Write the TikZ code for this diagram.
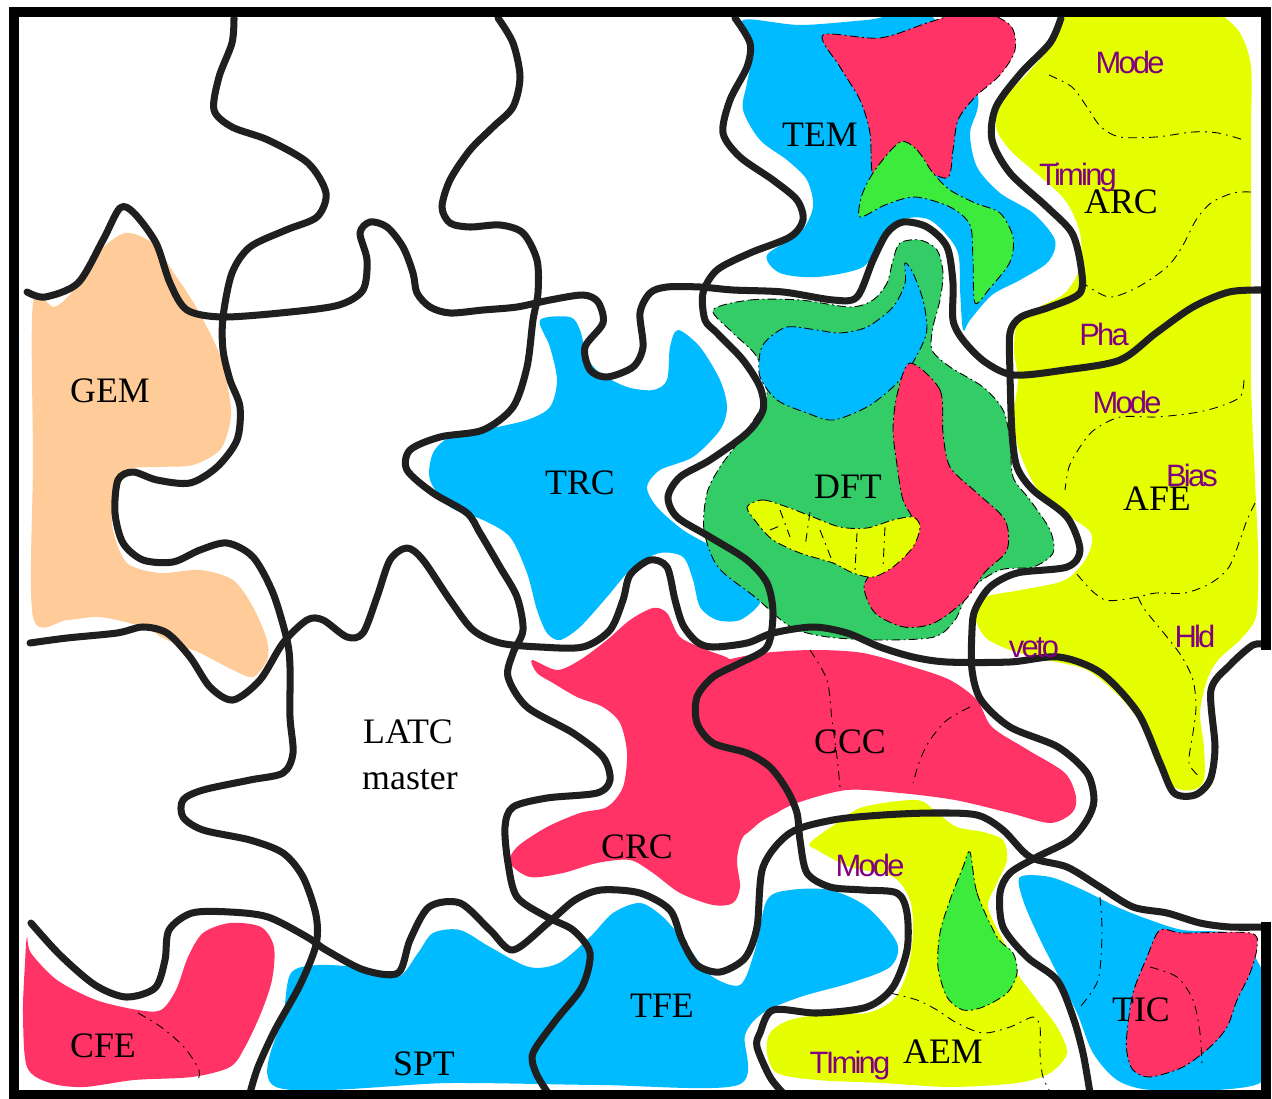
\documentclass[tikz,border=0pt]{standalone}
\usepackage{fontspec}
\setmainfont{Liberation Serif}
\newfontfamily\pufamily[LetterSpace=-9]{Liberation Sans}
\newcommand\labfont{\fontsize{20.4}{25}\selectfont}
\newcommand\pufont{\pufamily\fontsize{17.6}{20}\selectfont}
\definecolor{cy}{HTML}{00BBFF}
\definecolor{rd}{HTML}{FF3366}
\definecolor{yl}{HTML}{E5FF00}
\definecolor{gn}{HTML}{33CC66}
\definecolor{bg}{HTML}{3DEB3D}
\definecolor{orr}{HTML}{FFCC99}
\definecolor{pu}{HTML}{800080}
\tikzset{
 blob/.style={fill=#1, draw=none},
 dblob/.style={fill=#1, draw=black, line width=0.5pt, dash pattern=on 5pt off 2pt on 1pt off 2pt},
 wire/.style={draw=black!88, line width=4pt, line cap=round, line join=round},
 dline/.style={draw=black, line width=0.5pt, dash pattern=on 5pt off 3pt on 1pt off 3pt},
 lab/.style={anchor=base, font=\labfont, text=black, inner sep=0pt},
 plab/.style={anchor=base, font=\pufont, text=pu, inner sep=0pt},
 frame/.style={draw=black, line width=5.7pt, line cap=rect}
}
\begin{document}
\begin{tikzpicture}[x=0.02cm,y=-0.02cm]
\fill[white] (0,0) rectangle (1272,1099);
\useasboundingbox (0,0) rectangle (1272,1099);

% ---------- coloured regions ----------
% GEM
\path[blob=orr] plot[smooth cycle] coordinates {(33,303)(54,307)(71,293)(98,253)(125,233)(152,243)(174,273)(196,307)(219,353)(230,400)(230,423)(220,450)(193,465)(160,467)(127,470)(113,497)(113,530)(127,563)(160,573)(200,570)(233,580)(253,607)(267,640)(267,660)(253,677)(233,670)(200,653)(167,640)(143,627)(100,617)(67,620)(33,617)(33,460)};
% TRC
\path[blob=cy] plot[smooth cycle] coordinates {(540,320)(570,317)(580,330)(587,357)(600,373)(627,387)(653,390)(667,380)(670,347)(678,330)(700,347)(720,380)(727,407)(720,430)(693,457)(660,470)(647,487)(657,507)(683,530)(713,547)(740,563)(760,580)(760,603)(740,620)(717,620)(700,607)(693,580)(683,557)(660,553)(633,567)(607,597)(580,627)(560,640)(547,633)(537,610)(527,573)(510,537)(483,520)(450,507)(430,480)(433,453)(450,437)(483,430)(527,420)(550,407)(557,380)(550,347)};
% TEM
\path[blob=cy] plot[smooth cycle] coordinates {(743,20)(800,25)(867,20)(930,15)(977,93)(970,133)(977,167)(1000,193)(1033,213)(1055,240)(1048,262)(1020,280)(992,295)(970,320)(963,330)(960,290)(957,250)(930,220)(900,220)(880,240)(863,267)(817,277)(780,273)(767,255)(800,233)(813,207)(807,180)(787,160)(760,140)(743,110)(747,83)(753,47)};
\path[dblob=rd] plot[smooth cycle] coordinates {(823,35)(880,38)(930,22)(975,10)(1010,25)(1015,50)(1000,75)(975,97)(958,120)(953,150)(947,178)(915,165)(890,160)(873,175)(870,133)(860,100)(840,67)};
\path[dblob=bg] plot[smooth cycle] coordinates {(900,142)(917,150)(933,173)(950,190)(975,203)(1000,213)(1013,237)(1010,262)(990,288)(975,303)(973,260)(970,225)(950,207)(915,197)(885,205)(860,217)(862,195)(875,170)};
% DFT
\path[dblob=gn] plot[smooth cycle] coordinates {(713,310)(750,300)(800,300)(850,307)(873,300)(887,283)(893,260)(900,243)(920,240)(937,250)(943,273)(940,300)(933,327)(932,350)(950,367)(983,387)(1003,410)(1010,440)(1013,477)(1030,500)(1050,530)(1053,553)(1033,567)(1000,570)(970,590)(955,620)(934,637)(882,640)(828,637)(791,627)(755,597)(718,567)(704,530)(707,493)(720,467)(740,440)(760,410)(767,393)(757,357)(733,333)};
\path[dblob=cy] plot[smooth cycle] coordinates {(767,340)(787,327)(817,330)(840,333)(867,327)(893,307)(905,283)(905,263)(913,273)(923,300)(927,327)(923,343)(910,367)(893,387)(867,407)(833,420)(807,413)(777,400)(760,377)(760,353)};
\path[dblob=rd] plot[smooth cycle] coordinates {(910,363)(940,390)(943,433)(950,467)(977,493)(1005,520)(1007,550)(985,572)(965,600)(934,623)(904,627)(875,613)(864,587)(875,570)(904,550)(915,525)(903,500)(897,465)(893,430)(897,395)};
\path[dblob=yl] plot[smooth cycle] coordinates {(747,507)(763,500)(787,507)(813,517)(840,527)(867,528)(893,520)(913,517)(920,527)(913,547)(893,567)(873,577)(853,573)(833,563)(800,553)(773,540)(757,523)};
\draw[dline] (780,510)--(790,537) (810,512)--(805,547) (820,530)--(833,563) (857,533)--(855,570) (885,527)--(883,567) (770,530)--(782,525);
% ARC / AFE
\path[blob=yl] plot[smooth cycle] coordinates {(1069,15)(1138,12)(1193,7)(1218,13)(1240,33)(1251,67)(1251,133)(1251,233)(1251,380)(1255,480)(1258,547)(1258,593)(1255,620)(1240,640)(1218,660)(1207,680)(1200,713)(1204,747)(1204,780)(1193,790)(1174,787)(1156,763)(1145,730)(1120,697)(1087,670)(1047,660)(1010,650)(985,637)(974,613)(985,597)(1021,590)(1065,580)(1087,557)(1091,533)(1065,513)(1036,487)(1018,447)(1014,413)(1018,380)(1014,350)(1018,320)(1039,307)(1065,293)(1080,267)(1080,233)(1065,200)(1036,173)(1010,150)(996,127)(1003,100)(1028,73)(1050,47)};
\draw[dline] plot[smooth] coordinates {(1049,75)(1072,87)(1087,107)(1101,127)(1120,137)(1156,137)(1193,132)(1218,133)(1244,140)};
\draw[dline] plot[smooth] coordinates {(1251,192)(1233,193)(1211,203)(1196,220)(1182,247)(1167,267)(1138,287)(1109,297)(1083,283)};
\draw[dline] plot[smooth] coordinates {(1244,380)(1240,397)(1218,407)(1193,413)(1156,417)(1120,417)(1094,430)(1080,447)(1069,467)(1065,490)};
\draw[dline] plot[smooth] coordinates {(1255,503)(1247,520)(1240,540)(1229,567)(1211,583)(1185,593)(1156,593)(1138,597)(1120,600)(1105,600)(1091,590)(1076,573)};
\draw[dline] plot[smooth] coordinates {(1138,597)(1145,610)(1167,637)(1182,657)(1193,680)(1196,707)(1193,733)(1189,763)(1200,777)};
% CCC and CRC
\path[blob=rd] plot[smooth cycle] coordinates {(700,670)(727,660)(763,653)(813,650)(863,653)(913,667)(950,680)(977,700)(992,727)(1028,750)(1065,773)(1076,797)(1072,813)(1050,823)(1010,813)(955,800)(900,793)(847,790)(797,803)(763,820)(740,835)(720,800)(700,760)(690,720)};
\path[blob=rd] plot[smooth cycle] coordinates {(532,660)(557,670)(580,660)(607,640)(630,620)(653,608)(667,613)(680,637)(707,650)(730,660)(713,673)(700,690)(693,720)(713,743)(753,757)(773,780)(783,807)(763,820)(743,837)(737,860)(740,887)(733,903)(713,905)(680,893)(653,873)(630,860)(597,863)(563,873)(530,877)(510,863)(517,847)(547,827)(580,813)(607,807)(623,787)(627,753)(620,723)(603,707)(577,697)(553,683)(537,673)};
\draw[dline] plot[smooth] coordinates {(810,650)(827,680)(832,720)(837,757)(840,787)};
\draw[dline] plot[smooth] coordinates {(970,707)(947,720)(930,740)(920,760)(913,783)};
% AEM
\path[blob=yl] plot[smooth cycle] coordinates {(810,843)(837,823)(863,807)(917,800)(937,813)(957,827)(983,832)(1003,840)(1007,860)(997,883)(988,907)(1003,940)(1013,957)(1017,973)(1037,1000)(1057,1027)(1067,1053)(1050,1073)(1017,1083)(950,1087)(883,1083)(817,1080)(777,1073)(767,1053)(770,1033)(790,1020)(833,1013)(867,1013)(893,1000)(907,973)(913,933)(910,900)(893,877)(850,867)(817,850)};
\path[dblob=bg] plot[smooth cycle] coordinates {(970,852)(977,893)(997,937)(1013,953)(1017,973)(1007,993)(983,1007)(963,1010)(947,997)(938,967)(940,933)(950,900)(963,867)};
\draw[dline] plot[smooth] coordinates {(890,993)(917,1000)(937,1010)(957,1023)(983,1033)(1010,1027)(1033,1017)(1040,1027)(1040,1053)(1043,1077)(1053,1097)};
% TIC
\path[blob=cy] plot[smooth cycle] coordinates {(1020,877)(1050,877)(1083,890)(1117,907)(1150,920)(1183,930)(1230,933)(1250,950)(1263,973)(1266,1000)(1266,1060)(1260,1083)(1217,1090)(1150,1090)(1117,1080)(1093,1053)(1077,1013)(1057,973)(1037,933)(1023,900)};
\path[dblob=rd] plot[smooth cycle] coordinates {(1160,930)(1183,933)(1250,933)(1257,947)(1250,973)(1237,1000)(1227,1027)(1210,1047)(1183,1067)(1150,1077)(1133,1070)(1127,1053)(1127,1033)(1133,993)(1147,957)};
\draw[dline] plot[smooth] coordinates {(1100,897)(1102,933)(1098,980)(1080,1007)};
\draw[dline] plot[smooth] coordinates {(1150,967)(1177,977)(1193,1000)(1200,1033)(1202,1067)};
% SPT / TFE
\path[blob=cy] plot[smooth cycle] coordinates {(276,1087)(284,1013)(291,973)(318,965)(364,968)(398,977)(418,953)(433,933)(460,930)(490,947)(529,967)(559,963)(590,937)(613,913)(640,903)(663,917)(687,945)(710,975)(740,985)(755,950)(767,900)(790,890)(830,890)(867,907)(897,943)(890,967)(850,983)(800,997)(763,1013)(745,1035)(738,1085)(600,1085)(450,1083)};
% CFE
\path[blob=rd] plot[smooth cycle] coordinates {(27,937)(31,953)(57,980)(96,1000)(138,1010)(161,1010)(176,990)(188,957)(203,933)(230,923)(261,927)(274,947)(272,980)(261,1013)(245,1047)(230,1067)(192,1077)(134,1080)(84,1087)(50,1083)(27,1067)(23,1013)(25,963)};
\draw[dline] plot[smooth] coordinates {(138,1013)(161,1027)(184,1047)(199,1070)(197,1083)};

% ---------- puzzle lines ----------
\draw[wire] plot[smooth] coordinates {(27,292)(45,297)(78,283)(103,240)(120,208)(134,213)(156,243)(170,283)(187,310)(223,317)(290,312)(339,305)(363,290)(367,260)(360,233)(370,222)(387,227)(403,247)(413,273)(417,293)(430,307)(450,313)(483,310)(517,307)(550,300)(583,295)(598,302)(603,323)(585,347)(590,370)(607,377)(633,367)(643,347)(640,313)(650,293)(667,287)(700,287)(733,290)(783,292)(833,300)(857,297)(873,260)(887,233)(903,222)(927,227)(947,247)(953,283)(953,320)(963,340)(985,362)(1014,375)(1065,370)(1120,360)(1156,333)(1193,307)(1229,292)(1262,290)};
\draw[wire] plot[smooth] coordinates {(234,18)(232,43)(219,77)(214,110)(232,127)(268,140)(308,163)(326,193)(317,217)(286,230)(250,247)(232,273)(223,317)(223,350)(230,380)(240,407)(237,440)(217,467)(190,483)(157,480)(133,472)(118,480)(115,513)(123,543)(143,560)(173,562)(200,550)(227,543)(253,557)(273,593)(287,640)(290,667)(290,717)(293,753)(283,773)(250,780)(203,790)(183,800)(183,817)(203,830)(250,840)(283,853)(303,877)(316,915)(316,945)(300,985)(275,1030)(258,1067)(250,1093)};
\draw[wire] plot[smooth] coordinates {(498,18)(513,43)(520,77)(513,107)(493,127)(470,150)(450,180)(442,207)(450,223)(470,227)(500,225)(523,233)(537,260)(538,293)(533,320)(527,367)(513,407)(483,430)(440,437)(410,450)(407,470)(433,493)(467,513)(480,533)(500,567)(517,597)(523,630)(513,653)(508,677)(527,707)(573,733)(603,757)(610,780)(597,793)(547,798)(513,807)(505,827)(508,863)(517,897)(547,917)(573,930)(590,953)(582,987)(556,1020)(533,1053)(536,1073)(548,1093)};
\draw[wire] plot[smooth] coordinates {(735,18)(750,43)(747,67)(730,100)(723,133)(740,157)(773,180)(797,200)(803,220)(790,237)(750,253)(717,270)(703,293)(705,320)(717,333)(743,360)(760,387)(763,410)(747,433)(710,460)(680,477)(668,497)(677,517)(710,537)(747,560)(767,583)(773,613)(767,647)(740,663)(713,677)(697,697)(697,723)(713,743)(747,753)(770,767)(787,790)(797,813)(800,840)(807,873)(830,887)(863,890)(897,893)(907,913)(907,950)(893,987)(867,1007)(817,1013)(773,1010)(760,1033)(757,1047)(770,1077)(783,1093)};
\draw[wire] plot[smooth] coordinates {(1061,18)(1050,43)(1021,73)(996,107)(992,140)(1010,173)(1047,207)(1072,233)(1081,267)(1080,293)(1050,307)(1021,317)(1010,333)(1010,373)(1012,433)(1017,467)(1033,490)(1067,517)(1080,550)(1067,567)(1017,573)(990,587)(975,610)(972,630)(972,670)(981,700)(1010,727)(1058,747)(1087,773)(1094,800)(1087,820)(1070,840)(1037,857)(1010,873)(1000,893)(1003,927)(1027,957)(1057,980)(1073,1017)(1083,1053)(1090,1093)};
\draw[wire] plot[smooth] coordinates {(30,643)(67,638)(117,633)(143,627)(167,633)(190,657)(210,687)(233,700)(260,680)(283,643)(307,620)(323,620)(347,637)(363,633)(377,597)(390,560)(407,548)(423,560)(450,600)(473,630)(500,643)(540,647)(583,647)(610,630)(623,600)(630,575)(650,560)(667,567)(675,600)(683,625)(697,642)(713,647)(747,643)(773,633)(813,627)(847,633)(880,647)(913,657)(947,662)(1010,662)(1059,657)(1101,673)(1138,713)(1160,763)(1174,793)(1195,795)(1210,780)(1215,747)(1211,690)(1230,665)(1253,645)(1266,645)};
\draw[wire] plot[smooth] coordinates {(31,923)(60,955)(95,985)(126,997)(155,988)(165,960)(169,930)(192,913)(230,912)(268,917)(307,937)(326,950)(364,970)(398,973)(410,940)(429,907)(460,903)(490,930)(513,950)(548,923)(575,900)(601,890)(640,893)(670,910)(682,940)(697,965)(720,972)(745,958)(757,927)(763,867)(790,833)(833,820)(883,815)(933,813)(977,815)(1003,830)(1030,857)(1067,867)(1100,887)(1133,907)(1167,913)(1200,923)(1230,927)(1266,927)};

% ---------- frame ----------
\draw[frame] (1266,645)--(1266,12)--(14,12)--(14,1095)--(1266,1095)--(1266,927);

% ---------- labels ----------
\node[lab] (tem) at (820,146) {TEM};
\node[lab] (arc) at (1121,213) {ARC};
\node[plab] (arcmode) at (1130,73) {Mode};
\node[plab] (arctiming) at (1078,185) {Timing};
\node[plab] (pha) at (1104,345) {Pha};
\node[plab] (afemode) at (1127,413) {Mode};
\node[lab] (afe) at (1157,510) {AFE};
\node[plab] (bias) at (1192,486) {Bias};
\node[plab] (hld) at (1195,647) {Hld};
\node[plab] (veto) at (1034,657) {veto};
\node[lab] (gem) at (110,402) {GEM};
\node[lab] (trc) at (580,494) {TRC};
\node[lab] (dft) at (848,498) {DFT};
\node[lab] (latc) at (408,743) {LATC};
\node[lab] (master) at (410,789) {master};
\node[lab] (ccc) at (850,753) {CCC};
\node[lab] (crc) at (637,858) {CRC};
\node[plab] (aemmode) at (870,876) {Mode};
\node[lab] (aem) at (943,1063) {AEM};
\node[plab] (aemtiming) at (850,1073) {TIming};
\node[lab] (tic) at (1141,1021) {TIC};
\node[lab] (cfe) at (103,1057) {CFE};
\node[lab] (spt) at (424,1075) {SPT};
\node[lab] (tfe) at (662,1017) {TFE};
\end{tikzpicture}
\end{document}
